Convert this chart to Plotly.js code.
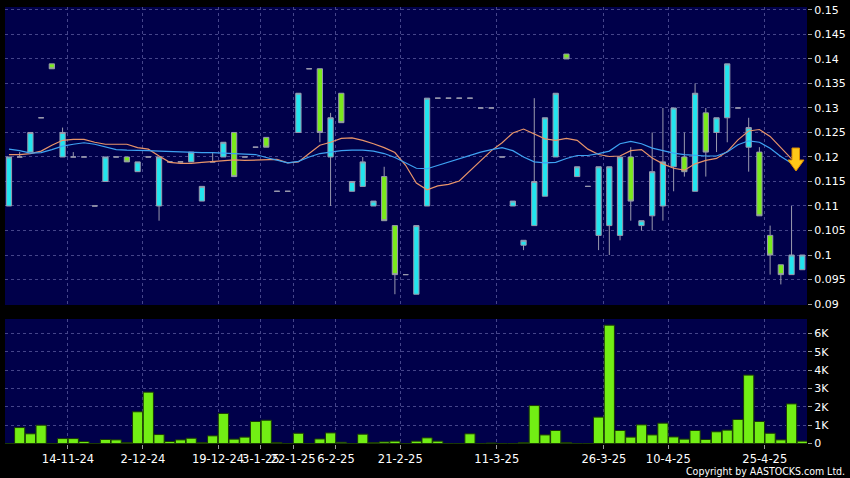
<!DOCTYPE html>
<html>
<head>
<meta charset="utf-8">
<script src="https://cdn.plot.ly/plotly-3.0.1.min.js"></script>
<style>
html,body{margin:0;padding:0;background:#000;}
#chart{width:850px;height:478px;}
</style>
</head>
<body>
<div id="chart"></div>
<script>
// ---- data (one slot per plotted session) ----
var openP  = [0.110,0.120,0.121,0.128,0.139,0.120,0.120,0.120,0.110,0.115,
              0.120,0.120,0.117,0.120,0.110,0.119,0.119,0.119,0.111,0.119,
              0.120,0.125,0.120,0.122,0.124,0.113,0.113,0.125,0.138,0.138,
              0.120,0.133,0.113,0.114,0.110,0.116,0.106,0.096,0.092,0.110,
              0.132,0.132,0.132,0.132,0.130,0.130,0.120,0.110,0.102,0.106,
              0.112,0.120,0.141,0.116,0.114,0.104,0.106,0.104,0.120,0.106,
              0.108,0.110,0.118,0.120,0.113,0.129,0.125,0.128,0.130,0.122,
              0.121,0.104,0.098,0.096,0.097];
var highP  = [0.120,0.121,0.125,0.128,0.139,0.126,0.121,0.120,0.110,0.120,
              0.120,0.120,0.119,0.120,0.120,0.119,0.119,0.121,0.114,0.121,
              0.123,0.125,0.120,0.122,0.124,0.113,0.113,0.133,0.138,0.138,
              0.129,0.133,0.115,0.120,0.111,0.118,0.106,0.096,0.106,0.132,
              0.132,0.132,0.132,0.132,0.130,0.130,0.120,0.111,0.103,0.132,
              0.128,0.133,0.141,0.118,0.114,0.118,0.118,0.120,0.122,0.107,
              0.125,0.130,0.130,0.125,0.135,0.130,0.128,0.139,0.130,0.128,
              0.122,0.106,0.098,0.110,0.100];
var lowP   = [0.110,0.120,0.121,0.128,0.138,0.120,0.120,0.120,0.110,0.115,
              0.120,0.119,0.117,0.120,0.107,0.119,0.119,0.119,0.111,0.119,
              0.120,0.116,0.120,0.122,0.122,0.113,0.113,0.125,0.138,0.123,
              0.110,0.127,0.113,0.114,0.110,0.107,0.092,0.096,0.092,0.110,
              0.132,0.132,0.132,0.132,0.130,0.130,0.120,0.110,0.101,0.106,
              0.112,0.120,0.140,0.116,0.114,0.101,0.100,0.103,0.107,0.105,
              0.105,0.107,0.113,0.116,0.113,0.116,0.121,0.123,0.130,0.117,
              0.108,0.096,0.094,0.096,0.097];
var closeP = [0.120,0.120,0.125,0.128,0.138,0.125,0.120,0.120,0.110,0.120,
              0.120,0.119,0.119,0.120,0.120,0.119,0.119,0.121,0.114,0.119,
              0.123,0.116,0.120,0.122,0.122,0.113,0.113,0.133,0.138,0.125,
              0.128,0.127,0.115,0.119,0.111,0.107,0.096,0.096,0.106,0.132,
              0.132,0.132,0.132,0.132,0.130,0.130,0.120,0.111,0.103,0.115,
              0.128,0.133,0.140,0.118,0.114,0.118,0.118,0.120,0.111,0.107,
              0.117,0.119,0.130,0.117,0.133,0.121,0.128,0.139,0.130,0.126,
              0.108,0.100,0.096,0.100,0.100];
var volume = [0,870,530,1000,0,270,270,110,0,220,
              200,50,1730,2800,490,110,200,290,50,420,
              1640,240,350,1200,1270,50,0,560,0,250,
              580,70,0,510,50,90,130,0,130,310,
              130,0,0,530,0,30,0,0,50,2070,
              470,710,50,0,0,1440,6450,710,350,1020,
              470,1110,360,240,710,220,640,730,1310,3730,
              1200,560,200,2160,130];
var maShort = [0.1205,0.1205,0.1207,0.1212,0.1224,0.1234,0.1236,0.1236,0.1230,0.1226,
               0.1226,0.1226,0.1219,0.1216,0.1202,0.1189,0.1187,0.1187,0.1189,0.1191,
               0.1193,0.1194,0.1193,0.1194,0.1195,0.1195,0.1188,0.1190,0.1207,0.1224,
               0.1230,0.1238,0.1239,0.1234,0.1227,0.1219,0.1209,0.1183,0.1147,0.1133,
               0.1141,0.1144,0.1151,0.1171,0.1193,0.1213,0.1229,0.1249,0.1257,0.1247,
               0.1237,0.1234,0.1238,0.1234,0.1216,0.1205,0.1201,0.1202,0.1213,0.1215,
               0.1198,0.1186,0.1177,0.1173,0.1186,0.1193,0.1197,0.1211,0.1235,0.1253,
               0.1256,0.1242,0.1218,0.1196];
var maLong  = [0.1216,0.1213,0.1208,0.1209,0.1215,0.1222,0.1226,0.1229,0.1226,0.1220,
               0.1215,0.1214,0.1214,0.1213,0.1212,0.1211,0.1210,0.1210,0.1209,0.1209,
               0.1208,0.1207,0.1206,0.1205,0.1199,0.1193,0.1188,0.1191,0.1200,0.1207,
               0.1210,0.1213,0.1214,0.1214,0.1212,0.1207,0.1199,0.1188,0.1177,0.1176,
               0.1183,0.1190,0.1197,0.1204,0.1210,0.1215,0.1219,0.1213,0.1200,0.1190,
               0.1188,0.1189,0.1197,0.1203,0.1203,0.1207,0.1212,0.1227,0.1232,0.1227,
               0.1218,0.1213,0.1208,0.1205,0.1203,0.1202,0.1202,0.1210,0.1225,0.1233,
               0.1230,0.1218,0.1201,0.1187];
// date labels and the slot at which each labelled date starts
var tickLabels = ['14-11-24','2-12-24','19-12-24','3-1-25','22-1-25','6-2-25','21-2-25','11-3-25','26-3-25','10-4-25','25-4-25'];
var tickSlots  = [6,13,20,24,27,31,37,46,56,62,71];
var volTicks   = [0,1000,2000,3000,4000,5000,6000];

// ---- build ----
var slots = openP.map(function(_, i){ return i; });
var maSlots = maShort.map(function(_, i){ return i; });
var tickVals = tickSlots.map(function(s){ return s - 0.5; });
var volTickText = volTicks.map(function(v){ return v === 0 ? '0' : (v/1000) + 'K'; });

var W = 850, H = 478, ML = 5, MR = 43, MT = 7, MB = 34;
var pw = W - ML - MR, ph = H - MT - MB;
function px(x){ return (x - ML) / pw; }
function py(y){ return (H - MB - y) / ph; }

var FONT = 'DejaVu Sans, Verdana, sans-serif';
var GRID = '#45458a';

var traces = [
  {
    type: 'candlestick', x: slots, open: openP, high: highP, low: lowP, close: closeP,
    xaxis: 'x', yaxis: 'y',
    increasing: {fillcolor: '#22e4ee', line: {color: '#9a9aae', width: 1}},
    decreasing: {fillcolor: '#7aea1c', line: {color: '#9a9aae', width: 1}},
    whiskerwidth: 0, hoverinfo: 'skip', showlegend: false
  },
  {
    type: 'scatter', mode: 'lines', x: maSlots, y: maShort, xaxis: 'x', yaxis: 'y',
    line: {color: '#e8946a', width: 1.2}, hoverinfo: 'skip', showlegend: false
  },
  {
    type: 'scatter', mode: 'lines', x: maSlots, y: maLong, xaxis: 'x', yaxis: 'y',
    line: {color: '#3ea2f2', width: 1.2}, hoverinfo: 'skip', showlegend: false
  },
  {
    type: 'bar', x: slots, y: volume, xaxis: 'x', yaxis: 'y2',
    marker: {color: '#72ee14', line: {color: '#1b3a05', width: 1}},
    hoverinfo: 'skip', showlegend: false
  }
];

var arrowPts = [[792,148],[799.5,148],[799.5,160],[804,160],[796,171],[788,160],[792,160]];
var arrowPath = 'M ' + arrowPts.map(function(p){ return px(p[0]) + ',' + py(p[1]); }).join(' L ') + ' Z';

var layout = {
  width: W, height: H,
  margin: {l: ML, r: MR, t: MT, b: MB, pad: 0},
  paper_bgcolor: '#000000',
  plot_bgcolor: '#00004a',
  font: {family: FONT, color: '#ffffff', size: 11},
  showlegend: false,
  hovermode: false,
  bargap: 0.05,
  boxgap: 0.3,
  boxgroupgap: 0.3,
  xaxis: {
    anchor: 'y2', range: [-0.37, 74.44],
    tickmode: 'array', tickvals: tickVals, ticktext: tickLabels, tickangle: 0,
    showgrid: true, gridcolor: GRID, griddash: '3px,3px', gridwidth: 1,
    ticks: 'outside', ticklen: 4, tickcolor: '#9a9a9a',
    tickfont: {family: FONT, color: '#ffffff', size: 11.5},
    zeroline: false, showline: false,
    rangeslider: {visible: false}, fixedrange: true
  },
  yaxis: {
    domain: [py(305), 1], range: [0.0898, 0.1506], side: 'right', anchor: 'x',
    tick0: 0.09, dtick: 0.005, tickformat: '.3~f',
    showgrid: true, gridcolor: GRID, griddash: '3px,3px', gridwidth: 1,
    ticks: 'outside', ticklen: 4, tickcolor: '#9a9a9a',
    tickfont: {family: FONT, color: '#ffffff', size: 11},
    zeroline: false, showline: false, fixedrange: true
  },
  yaxis2: {
    domain: [0, py(319)], range: [-25, 6785], side: 'right', anchor: 'x',
    tickmode: 'array', tickvals: volTicks, ticktext: volTickText,
    showgrid: true, gridcolor: GRID, griddash: '3px,3px', gridwidth: 1,
    ticks: 'outside', ticklen: 4, tickcolor: '#9a9a9a',
    tickfont: {family: FONT, color: '#ffffff', size: 11},
    zeroline: false, showline: false, fixedrange: true
  },
  shapes: [
    {type: 'path', xref: 'paper', yref: 'paper', path: arrowPath,
     fillcolor: '#ffc818', line: {color: '#d98a00', width: 1}, layer: 'above'}
  ],
  annotations: [
    {xref: 'paper', yref: 'paper', x: px(847), y: py(471), xanchor: 'right', yanchor: 'middle',
     text: 'Copyright by AASTOCKS.com Ltd.', showarrow: false,
     font: {family: 'DejaVu Sans Condensed, DejaVu Sans, sans-serif', size: 10.5, color: '#ffffff'}}
  ]
};

Plotly.newPlot('chart', traces, layout, {displayModeBar: false, staticPlot: true});
</script>
</body>
</html>
